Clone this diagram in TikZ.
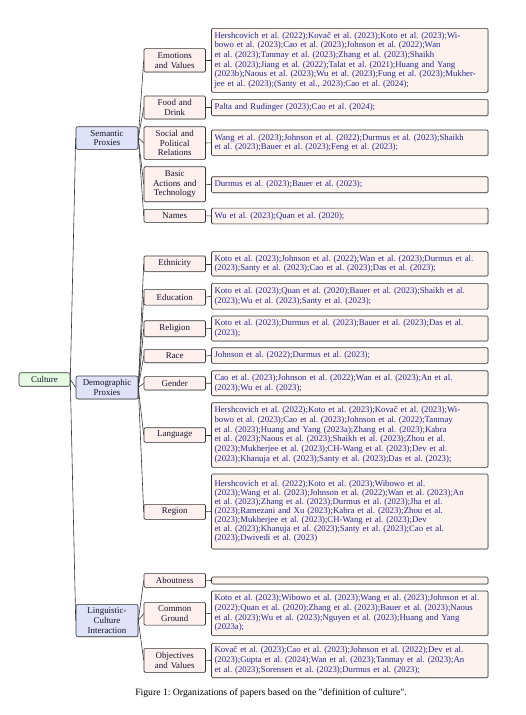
\documentclass[tikz,border=0pt]{standalone}
\usepackage{fontspec}
\setmainfont{Liberation Serif}
\newfontfamily\capfont{Liberation Serif}
\usetikzlibrary{shadows}
\definecolor{bordercol}{RGB}{55,55,55}
\definecolor{rootfill}{RGB}{230,250,228}
\definecolor{lvonefill}{RGB}{224,226,250}
\definecolor{lvtwofill}{RGB}{255,240,240}
\definecolor{leaffill}{RGB}{252,242,238}
\definecolor{citecol}{RGB}{40,40,150}
\definecolor{labcol}{RGB}{20,20,40}
\begin{document}
\frenchspacing
\begin{tikzpicture}[x=1pt,y=-1pt,
  box/.style={draw=bordercol, line width=0.6pt, rounded corners=1.2pt,
    drop shadow={shadow xshift=0.6pt, shadow yshift=-0.6pt, opacity=0.35},
    inner xsep=3pt, inner ysep=2pt, font=\fontsize{8.9}{9.7}\selectfont\frenchspacing},
  rootbox/.style={box, fill=rootfill, minimum width=51pt, minimum height=13.5pt, rounded corners=2pt, text=labcol},
  lvone/.style={box, fill=lvonefill, text width=56pt, align=center, rounded corners=2pt, text=labcol},
  lvtwo/.style={box, fill=lvtwofill, text width=55.5pt, align=center, text=labcol},
  leaf/.style={box, fill=leaffill, inner xsep=3pt, text width=270.5pt, align=left, text=citecol,
    font=\fontsize{8.75}{9.7}\selectfont\frenchspacing},
  edge/.style={draw=bordercol, line width=0.6pt}
]
\useasboundingbox (0,0) rectangle (526,715);

% root and level one
\node[rootbox] (culture) at (44.5,379.5) {Culture};
\node[lvone, minimum height=22.6pt] (sem) at (107,138) {Semantic\\Proxies};
\node[lvone, minimum height=23pt] (dem) at (107,387.5) {Demographic\\Proxies};
\node[lvone, minimum height=32.4pt] (lin) at (107,620.5) {Linguistic-\\Culture\\Interaction};

% level two
\node[lvtwo, minimum height=23.3pt] (emo) at (174.75,60.3) {Emotions\\and Values};
\node[lvtwo, minimum height=23pt] (food) at (174.75,107.5) {Food and\\Drink};
\node[lvtwo, minimum height=32.6pt] (soc) at (174.75,143) {Social and\\Political\\Relations};
\node[lvtwo, minimum height=35pt] (bas) at (174.75,184.2) {Basic\\Actions and\\Technology};
\node[lvtwo, minimum height=13pt] (nam) at (174.75,215.8) {Names};
\node[lvtwo, minimum height=15.7pt] (eth) at (174.75,263.8) {Ethnicity};
\node[lvtwo, minimum height=15.7pt] (edu) at (174.75,297.2) {Education};
\node[lvtwo, minimum height=16pt] (rel) at (174.75,328.7) {Religion};
\node[lvtwo, minimum height=13.4pt] (rac) at (174.75,356) {Race};
\node[lvtwo, minimum height=13.3pt] (gen) at (174.75,383.3) {Gender};
\node[lvtwo, minimum height=14.6pt] (lan) at (174.75,435) {Language};
\node[lvtwo, minimum height=15pt] (reg) at (174.75,511.8) {Region};
\node[lvtwo, minimum height=14pt] (abo) at (174.75,580.3) {Aboutness};
\node[lvtwo, minimum height=22.7pt] (com) at (174.75,613.7) {Common\\Ground};
\node[lvtwo, minimum height=24pt] (obj) at (174.75,660.3) {Objectives\\and Values};

% leaves
\node[leaf, minimum height=64pt] (emoL) at (349.75,60.3) {Hershcovich et al. (2022);Kovač et al. (2023);Koto et al. (2023);Wi-\\bowo et al. (2023);Cao et al. (2023);Johnson et al. (2022);Wan\\et al. (2023);Tanmay et al. (2023);Zhang et al. (2023);Shaikh\\et al. (2023);Jiang et al. (2022);Talat et al. (2021);Huang and Yang\\(2023b);Naous et al. (2023);Wu et al. (2023);Fung et al. (2023);Mukher-\\jee et al. (2023);(Santy et al., 2023);Cao et al. (2024);};
\node[leaf, minimum height=16.4pt] (foodL) at (349.75,107.5) {Palta and Rudinger (2023);Cao et al. (2024);};
\node[leaf, minimum height=25.7pt] (socL) at (349.75,142.8) {Wang et al. (2023);Johnson et al. (2022);Durmus et al. (2023);Shaikh\\et al. (2023);Bauer et al. (2023);Feng et al. (2023);};
\node[leaf, minimum height=16pt] (basL) at (349.75,184.7) {Durmus et al. (2023);Bauer et al. (2023);};
\node[leaf, minimum height=15.7pt] (namL) at (349.75,216) {Wu et al. (2023);Quan et al. (2020);};
\node[leaf, minimum height=24.3pt] (ethL) at (349.75,263.8) {Koto et al. (2023);Johnson et al. (2022);Wan et al. (2023);Durmus et al.\\(2023);Santy et al. (2023);Cao et al. (2023);Das et al. (2023);};
\node[leaf, minimum height=25.7pt] (eduL) at (349.75,296.2) {Koto et al. (2023);Quan et al. (2020);Bauer et al. (2023);Shaikh et al.\\(2023);Wu et al. (2023);Santy et al. (2023);};
\node[leaf, minimum height=25pt] (relL) at (349.75,328.5) {Koto et al. (2023);Durmus et al. (2023);Bauer et al. (2023);Das et al.\\(2023);};
\node[leaf, minimum height=15.6pt] (racL) at (349.75,355.5) {Johnson et al. (2022);Durmus et al. (2023);};
\node[leaf, minimum height=25pt] (genL) at (349.75,383.2) {Cao et al. (2023);Johnson et al. (2022);Wan et al. (2023);An et al.\\(2023);Wu et al. (2023);};
\node[leaf, minimum height=64.6pt] (lanL) at (349.75,435) {Hershcovich et al. (2022);Koto et al. (2023);Kovač et al. (2023);Wi-\\bowo et al. (2023);Cao et al. (2023);Johnson et al. (2022);Tanmay\\et al. (2023);Huang and Yang (2023a);Zhang et al. (2023);Kabra\\et al. (2023);Naous et al. (2023);Shaikh et al. (2023);Zhou et al.\\(2023);Mukherjee et al. (2023);CH-Wang et al. (2023);Dev et al.\\(2023);Khanuja et al. (2023);Santy et al. (2023);Das et al. (2023);};
\node[leaf, minimum height=75pt, font=\fontsize{8.75}{8.9}\selectfont\frenchspacing] (regL) at (349.75,511.5) {Hershcovich et al. (2022);Koto et al. (2023);Wibowo et al.\\(2023);Wang et al. (2023);Johnson et al. (2022);Wan et al. (2023);An\\et al. (2023);Zhang et al. (2023);Durmus et al. (2023);Jha et al.\\(2023);Ramezani and Xu (2023);Kabra et al. (2023);Zhou et al.\\(2023);Mukherjee et al. (2023);CH-Wang et al. (2023);Dev\\et al. (2023);Khanuja et al. (2023);Santy et al. (2023);Cao et al.\\(2023);Dwivedi et al. (2023)};
\node[leaf, minimum height=7pt, inner ysep=1pt] (aboL) at (349.75,580.5) {};
\node[leaf, minimum height=44.7pt] (comL) at (349.75,613.3) {Koto et al. (2023);Wibowo et al. (2023);Wang et al. (2023);Johnson et al.\\(2022);Quan et al. (2020);Zhang et al. (2023);Bauer et al. (2023);Naous\\et al. (2023);Wu et al. (2023);Nguyen et al. (2023);Huang and Yang\\(2023a);};
\node[leaf, minimum height=34.4pt] (objL) at (349.75,660.5) {Kovač et al. (2023);Cao et al. (2023);Johnson et al. (2022);Dev et al.\\(2023);Gupta et al. (2024);Wan et al. (2023);Tanmay et al. (2023);An\\et al. (2023);Sorensen et al. (2023);Durmus et al. (2023);};

% edges
\foreach \c in {sem,dem,lin} \draw[edge] (culture.east) -- (\c.west);
\foreach \c in {emo,food,soc,bas,nam} \draw[edge] (sem.east) -- (\c.west);
\foreach \c in {eth,edu,rel,rac,gen,lan,reg} \draw[edge] (dem.east) -- (\c.west);
\foreach \c in {abo,com,obj} \draw[edge] (lin.east) -- (\c.west);
\foreach \p in {emo,food,soc,bas,nam,eth,edu,rel,rac,gen,lan,reg,abo,com,obj} \draw[edge] (\p.east) -- (\p L.west);

% caption
\node[font=\capfont\fontsize{9.7}{11}\selectfont\frenchspacing, text=black] (cap) at (271,693) {Figure 1: Organizations of papers based on the "definition of culture".};
\end{tikzpicture}
\end{document}
